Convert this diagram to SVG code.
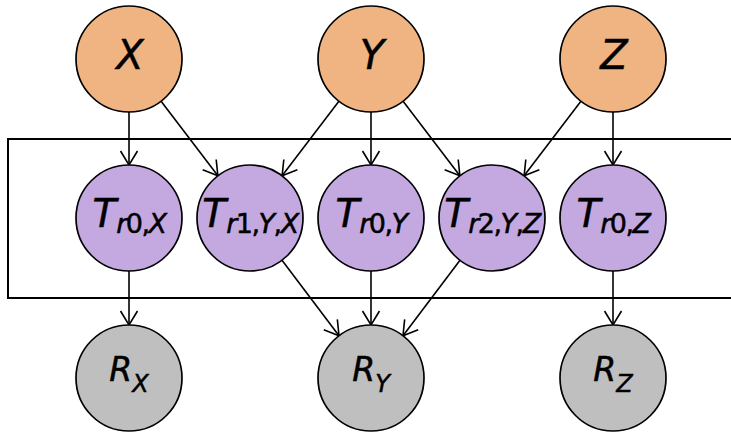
<svg xmlns="http://www.w3.org/2000/svg" width="731" height="432" viewBox="0 0 731 432">
<style>
.n{stroke:#000;stroke-width:1.7}
.o{fill:#F0B482}
.p{fill:#C4A8E0}
.g{fill:#BFBFBF}
text{font-family:"DejaVu Sans",sans-serif;font-style:italic;fill:#000;stroke:#000;stroke-width:0.5}
.t{font-size:40px}
.m{font-size:39px}
.s{font-size:27px;letter-spacing:-1.5px}
.r{font-size:33px}
.rs{font-size:24px}
.u{font-style:normal}
.c line{stroke:#000;stroke-width:1.6;marker-end:url(#a)}
</style>
<defs>
<marker id="a" markerUnits="userSpaceOnUse" viewBox="-16 -10 18 20" refX="0" refY="0" markerWidth="18" markerHeight="20" orient="auto">
<path d="M-14,-8.5 L0,0 L-14,8.5" fill="none" stroke="#000" stroke-width="1.6"/>
</marker>
</defs>
<rect x="8" y="139" width="740" height="159" fill="none" stroke="#000" stroke-width="2"/>
<g class="c">
<line x1="129" y1="112" x2="129" y2="165"/>
<line x1="161.1" y1="101.2" x2="217.9" y2="175.8"/>
<line x1="338.9" y1="101.2" x2="282.1" y2="175.8"/>
<line x1="371" y1="112" x2="371" y2="165"/>
<line x1="403.1" y1="101.2" x2="459.9" y2="175.8"/>
<line x1="580.9" y1="101.2" x2="524.1" y2="175.8"/>
<line x1="613" y1="112" x2="613" y2="165"/>
<line x1="129" y1="271" x2="129" y2="325"/>
<line x1="282" y1="260.3" x2="339" y2="335.7"/>
<line x1="371" y1="271" x2="371" y2="325"/>
<line x1="460" y1="260.3" x2="403" y2="335.7"/>
<line x1="613" y1="271" x2="613" y2="325"/>
</g>
<g id="X"><circle class="n o" cx="129" cy="59" r="53"/><text class="t" x="130" y="69" text-anchor="middle">X</text></g>
<g id="Y"><circle class="n o" cx="371" cy="59" r="53"/><text class="t" x="372" y="69" text-anchor="middle">Y</text></g>
<g id="Z"><circle class="n o" cx="613" cy="59" r="53"/><text class="t" x="614" y="69" text-anchor="middle">Z</text></g>
<g id="Tr0X"><circle class="n p" cx="129" cy="218" r="53"/><text x="129" y="227" text-anchor="middle"><tspan class="m">T</tspan><tspan class="s" dy="6">r<tspan class="u">0,</tspan>X</tspan></text></g>
<g id="Tr1YX"><circle class="n p" cx="250" cy="218" r="53"/><text x="250" y="227" text-anchor="middle"><tspan class="m">T</tspan><tspan class="s" dy="6">r<tspan class="u">1,</tspan>Y<tspan class="u">,</tspan>X</tspan></text></g>
<g id="Tr0Y"><circle class="n p" cx="371" cy="218" r="53"/><text x="371" y="227" text-anchor="middle"><tspan class="m">T</tspan><tspan class="s" dy="6">r<tspan class="u">0,</tspan>Y</tspan></text></g>
<g id="Tr2YZ"><circle class="n p" cx="492" cy="218" r="53"/><text x="492" y="227" text-anchor="middle"><tspan class="m">T</tspan><tspan class="s" dy="6">r<tspan class="u">2,</tspan>Y<tspan class="u">,</tspan>Z</tspan></text></g>
<g id="Tr0Z"><circle class="n p" cx="613" cy="218" r="53"/><text x="613" y="227" text-anchor="middle"><tspan class="m">T</tspan><tspan class="s" dy="6">r<tspan class="u">0,</tspan>Z</tspan></text></g>
<g id="RX"><circle class="n g" cx="129" cy="378" r="53"/><text x="129" y="381" text-anchor="middle"><tspan class="r">R</tspan><tspan class="rs" dy="11">X</tspan></text></g>
<g id="RY"><circle class="n g" cx="371" cy="378" r="53"/><text x="371" y="381" text-anchor="middle"><tspan class="r">R</tspan><tspan class="rs" dy="11">Y</tspan></text></g>
<g id="RZ"><circle class="n g" cx="613" cy="378" r="53"/><text x="613" y="381" text-anchor="middle"><tspan class="r">R</tspan><tspan class="rs" dy="11">Z</tspan></text></g>
</svg>
